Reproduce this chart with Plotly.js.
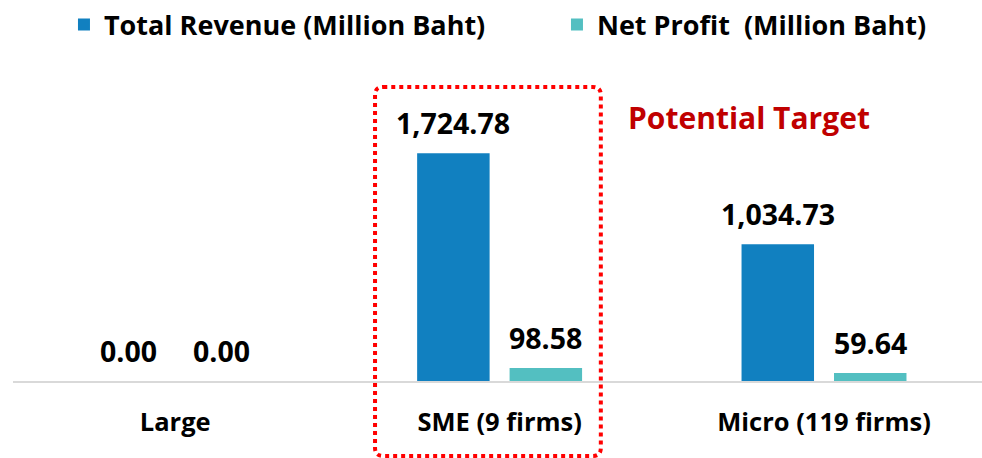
<!DOCTYPE html>
<html>
<head>
<meta charset="utf-8">
<script src="https://cdn.plot.ly/plotly-3.0.1.min.js"></script>
<style>
  html, body { margin: 0; padding: 0; background: #fff; }
  #chart { width: 982px; height: 458px; }
</style>
</head>
<body>
<div id="chart"></div>
<script>
// ---- data ----
const categories = ["Large", "SME (9 firms)", "Micro (119 firms)"];
const seriesNames = ["Total Revenue (Million Baht)", "Net Profit  (Million Baht)"];
const totalRevenue = [0.00, 1724.78, 1034.73];
const netProfit = [0.00, 98.58, 59.64];
const highlightLabel = "Potential Target";
const highlightIndex = 1;

// ---- styles ----
const FONT = "Open Sans, sans-serif";
const colors = ["#1180C0", "#53BFC1"];
const legendWidths = [448, null];
const BARGAP = 0.43, BARGROUPGAP = 0.216;
const XR = [-0.5, 2.487], YR = [0, 2431];

const seriesValues = [totalRevenue, netProfit];
const fmt = v => v.toLocaleString("en-US", { minimumFractionDigits: 2, maximumFractionDigits: 2 });

const data = seriesValues.map((vals, i) => {
  const t = {
    type: "bar",
    name: seriesNames[i],
    x: categories,
    y: vals,
    marker: { color: colors[i] },
    hoverinfo: "skip"
  };
  if (legendWidths[i]) t.legendwidth = legendWidths[i];
  return t;
});

// value labels placed over each bar (grouped offset derived from bargap)
const slot = (1 - BARGAP) / seriesValues.length;
const valueAnnotations = [];
seriesValues.forEach((vals, i) => {
  const off = (i - (seriesValues.length - 1) / 2) * slot;
  vals.forEach((v, j) => {
    valueAnnotations.push({
      xref: "x", yref: "y",
      x: j + off, y: v,
      text: fmt(v),
      showarrow: false,
      xanchor: "center", yanchor: "middle",
      yshift: 30,
      font: { family: FONT, size: 28.5, color: "#000", weight: 700 }
    });
  });
});

// rounded dotted box around highlighted category (paper coords so it is not clipped)
const xp = v => (v - XR[0]) / (XR[1] - XR[0]);
const yp = v => (v - YR[0]) / (YR[1] - YR[0]);
const bx0 = xp(highlightIndex - 0.384), bx1 = xp(highlightIndex + 0.312);
const by0 = yp(-568), by1 = yp(2227);
const rx = 0.0085, ry = 0.025;
const boxPath =
  `M ${bx0 + rx},${by1} L ${bx1 - rx},${by1} Q ${bx1},${by1} ${bx1},${by1 - ry} ` +
  `L ${bx1},${by0 + ry} Q ${bx1},${by0} ${bx1 - rx},${by0} ` +
  `L ${bx0 + rx},${by0} Q ${bx0},${by0} ${bx0},${by0 + ry} ` +
  `L ${bx0},${by1 - ry} Q ${bx0},${by1} ${bx0 + rx},${by1} Z`;

const layout = {
  width: 982,
  height: 458,
  margin: { l: 13, r: 0, t: 60, b: 77, pad: 0, autoexpand: false },
  paper_bgcolor: "#fff",
  plot_bgcolor: "#fff",
  font: { family: FONT, color: "#000" },
  barmode: "group",
  bargap: BARGAP,
  bargroupgap: BARGROUPGAP,
  showlegend: true,
  legend: {
    orientation: "h",
    x: 0.0526, xanchor: "left",
    y: 1.109, yanchor: "middle",
    font: { family: FONT, size: 27, color: "#000", weight: 700 },
    itemclick: false
  },
  xaxis: {
    range: XR,
    showline: true,
    linecolor: "#D9D9D9",
    linewidth: 2,
    ticks: "",
    ticklabelstandoff: 17,
    showgrid: false,
    zeroline: false,
    tickfont: { family: FONT, size: 25.5, color: "#000", weight: 700 },
    fixedrange: true
  },
  yaxis: {
    range: YR,
    visible: false,
    showgrid: false,
    zeroline: false,
    fixedrange: true
  },
  shapes: [{
    type: "path",
    xref: "paper", yref: "paper",
    path: boxPath,
    line: { color: "#FF0000", width: 4, dash: "dot" },
    fillcolor: "rgba(0,0,0,0)",
    layer: "above"
  }],
  annotations: valueAnnotations.concat([{
    xref: "x", yref: "y",
    x: highlightIndex + 0.768, y: 1992,
    text: highlightLabel,
    showarrow: false,
    font: { family: FONT, size: 30, color: "#C00000", weight: 700 },
    xanchor: "center", yanchor: "middle"
  }])
};

Plotly.newPlot("chart", data, layout, { displayModeBar: false, staticPlot: true });
</script>
</body>
</html>
